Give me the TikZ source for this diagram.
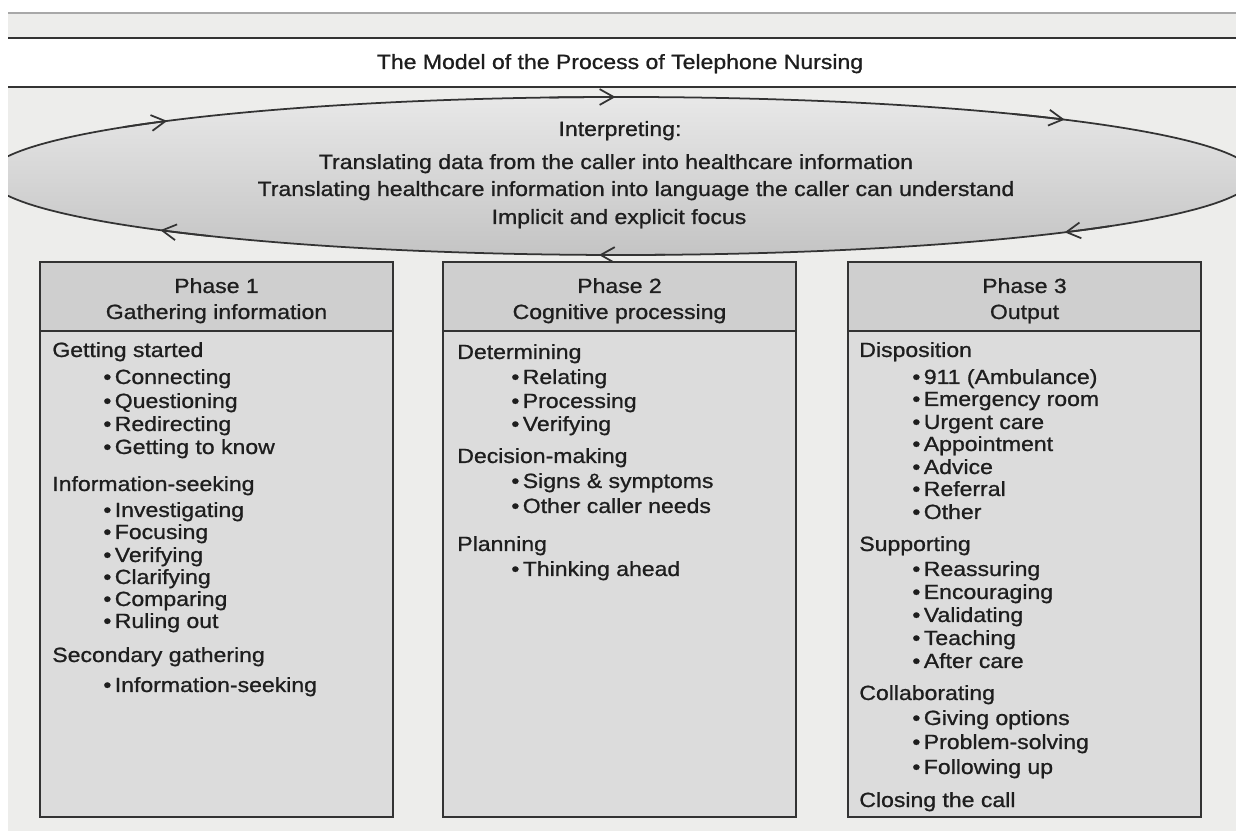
\documentclass[tikz,border=0pt]{standalone}
\usepackage{fontspec}
\setmainfont{Liberation Sans}[FakeStretch=1.12, FakeBold=0.9]
\usepackage{xcolor}
\usepackage{tikz}
\usetikzlibrary{arrows.meta}
\definecolor{page}{HTML}{EDEDEB}
\definecolor{ink}{HTML}{333333}
\definecolor{textc}{HTML}{1E1E1E}
\definecolor{rulec}{HTML}{A8A8A8}
\definecolor{headfill}{HTML}{CFCFCF}
\definecolor{bodyfill}{HTML}{DCDCDC}
\definecolor{ovaltop}{HTML}{E8E8E8}
\definecolor{ovalbot}{HTML}{C4C4C4}
\tikzset{
  frame/.style={draw=ink, line width=1.4pt},
  band/.style={draw=ink, line width=1.2pt},
  oval/.style={draw=ink, line width=1pt, top color=ovaltop, bottom color=ovalbot},
  tip/.style={draw=ink, line width=1pt, -{Straight Barb[length=8pt,width=9pt]}},
  txt/.style={text=textc, font=\fontsize{11.7}{14}\selectfont, inner sep=0pt},
  head/.style={txt, anchor=base},
  sec/.style={txt, anchor=base west},
  itm/.style={txt, anchor=base west}
}

\begin{document}
\begin{tikzpicture}[x=0.02cm, y=0.02cm]
  \useasboundingbox (0,0) rectangle (1236,831);
  \fill[page] (8,0) rectangle (1236,818);
  \draw[rulec, line width=0.6pt] (8,818) -- (1236,818);

  % title band
  \fill[white] (8,744) rectangle (1236,793);
  \draw[band] (8,793) -- (1236,793);
  \draw[band] (8,744) -- (1236,744);
  \node[head] (title) at (620,762) {The Model of the Process of Telephone Nursing};

  % the interpreting loop
  \begin{scope}
    \clip (8,0) rectangle (1236,831);
    \draw[oval] (621,655) ellipse [x radius=633, y radius=79];
    \foreach \a in {45.5,90.5,135.8,223.3,268,314.5}
      \draw[tip] (621,655) ++(\a+6:633 and 79)
        arc[start angle=\a+6, end angle=\a, x radius=633, y radius=79];
  \end{scope}
  \node[head] (interp) at (620,695) {Interpreting:};
  \node[head] (tr1) at (616,662) {Translating data from the caller into healthcare information};
  \node[head] (tr2) at (636,635) {Translating healthcare information into language the caller can understand};
  \node[head] (focus) at (619,607) {Implicit and explicit focus};

  % the three phase boxes
  \foreach \x in {40,443,848}{
    \filldraw[frame, fill=bodyfill] (\x,14) rectangle ++(353,555);
    \filldraw[frame, fill=headfill] (\x,500) rectangle ++(353,69);
  }
  \node[head] (ph1) at (216.5,538) {Phase 1};
  \node[head] (ph1b) at (216.5,512) {Gathering information};
  \node[head] (ph2) at (619.5,538) {Phase 2};
  \node[head] (ph2b) at (619.5,512) {Cognitive processing};
  \node[head] (ph3) at (1024.5,538) {Phase 3};
  \node[head] (ph3b) at (1024.5,512) {Output};

  % phase 1
  \node[sec] (start) at (52,474) {Getting started};
  \node[sec] (seek) at (52,340) {Information-seeking};
  \node[sec] (second) at (52,169) {Secondary gathering};
  \foreach \y/\t [count=\i] in {447/Connecting, 423/Questioning, 400/Redirecting,
      377/Getting to know, 314/Investigating, 292/Focusing, 269/Verifying,
      247/Clarifying, 225/Comparing, 203/Ruling out, 139/Information-seeking}
    \node[itm] (a\i) at (103,\y) {\textbullet\,\t};

  % phase 2
  \node[sec] (determ) at (457,472) {Determining};
  \node[sec] (decide) at (457,368) {Decision-making};
  \node[sec] (plan) at (457,280) {Planning};
  \foreach \y/\t [count=\i] in {447/Relating, 423/Processing, 400/Verifying,
      343/Signs \& symptoms, 318/Other caller needs, 255/Thinking ahead}
    \node[itm] (b\i) at (511,\y) {\textbullet\,\t};

  % phase 3
  \node[sec] (dispo) at (859,474) {Disposition};
  \node[sec] (support) at (859,280) {Supporting};
  \node[sec] (collab) at (859,131) {Collaborating};
  \node[sec] (closing) at (859,24) {Closing the call};
  \foreach \y/\t [count=\i] in {447/911 (Ambulance), 425/Emergency room,
      402/Urgent care, 380/Appointment, 357/Advice, 335/Referral, 312/Other,
      255/Reassuring, 232/Encouraging, 209/Validating, 186/Teaching,
      163/After care, 106/Giving options, 82/Problem-solving, 57/Following up}
    \node[itm] (c\i) at (912,\y) {\textbullet\,\t};
\end{tikzpicture}
\end{document}
